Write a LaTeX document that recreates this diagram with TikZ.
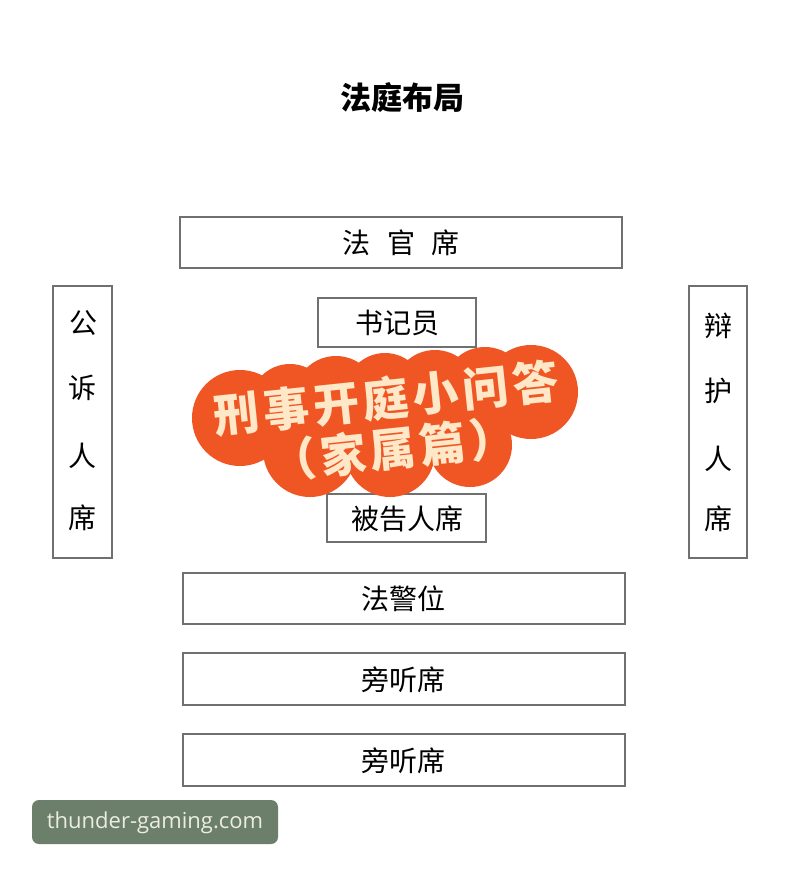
\documentclass[tikz,border=0pt]{standalone}
\usepackage{fontspec}
\newfontfamily\cjk{Noto Sans CJK SC}
\newfontfamily\wm{Open Sans}
\definecolor{boxline}{RGB}{112,112,112}
\definecolor{blob}{RGB}{240,86,36}
\definecolor{cream}{RGB}{255,232,200}
\definecolor{wmbg}{RGB}{107,127,107}
\definecolor{wmtext}{RGB}{236,236,226}
\newcommand{\gp}{\hspace{4pt}}
\tikzset{
  seat/.style={draw=boxline, line width=2pt, fill=white},
  seattext/.style={font=\cjk\fontsize{28}{30}\selectfont, text=black, inner sep=0pt},
  blobtext/.style={font=\cjk\bfseries\fontsize{46}{48}\selectfont, text=cream, inner sep=0pt, rotate=6},
}
\begin{document}
\begin{tikzpicture}[x=1pt,y=-1pt]
\useasboundingbox (0,0) rectangle (800,875);
\fill[white] (0,0) rectangle (800,875);
% title
\node[font=\cjk\bfseries\fontsize{31}{33}\selectfont, inner sep=0pt] (title) at (402,98) {法庭布局};
% seats
\draw[seat] (180,217) rectangle (622,268);
\node[seattext] (judge) at (401,243) {法\hspace{17pt}官\hspace{17pt}席};
\draw[seat] (318,298) rectangle (476,347);
\node[seattext] (clerk) at (397,323) {书记员};
\draw[seat] (53,286) rectangle (112,558);
\node[seattext] (p1) at (83,323) {公};
\node[seattext] (p2) at (82,388) {诉};
\node[seattext] (p3) at (82,456) {人};
\node[seattext] (p4) at (82,518) {席};
\draw[seat] (689,286) rectangle (747,558);
\node[seattext] (d1) at (718,326) {辩};
\node[seattext] (d2) at (718,391) {护};
\node[seattext] (d3) at (718,459) {人};
\node[seattext] (d4) at (718,519) {席};
\draw[seat] (327,494) rectangle (486,542);
\node[seattext] (defendant) at (407,519) {被告人席};
\draw[seat] (183,573) rectangle (625,624);
\node[seattext] (police) at (403,599) {法警位};
\draw[seat] (183,653) rectangle (625,705);
\node[seattext] (aud1) at (403,680) {旁听席};
\draw[seat] (183,734) rectangle (625,786);
\node[seattext] (aud2) at (403,761) {旁听席};
% orange blob
\begin{scope}[fill=blob]
\fill (240,418) circle (48);
\fill (290,404) circle (40);
\fill (336,398) circle (42);
\fill (385,393) circle (40);
\fill (435,392) circle (42);
\fill (485,389) circle (42);
\fill (531,392) circle (47);
\fill (310,450) circle (47);
\fill (390,452) circle (45);
\fill (470,445) circle (42);
\fill (245,400) -- (530,380) -- (520,420) -- (470,460) -- (310,470) -- (250,440) -- cycle;
\end{scope}
\node[blobtext] (line1) at (386,398) {刑\gp 事\gp 开\gp 庭\gp 小\gp 问\gp 答};
\node[blobtext] (line2) at (393,449) {（\gp 家\gp 属\gp 篇\gp ）};
% watermark
\fill[wmbg, rounded corners=7pt] (32,800) rectangle (278,844);
\node[font=\wm\fontsize{22}{24}\selectfont, text=wmtext, inner sep=0pt] (wm) at (155,823) {thunder-gaming.com};
\end{tikzpicture}
\end{document}
